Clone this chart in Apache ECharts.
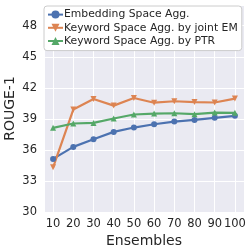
<!DOCTYPE html>
<html><head><meta charset="utf-8">
<script src="https://cdn.jsdelivr.net/npm/echarts@6/dist/echarts.min.js"></script>
<style>html,body{margin:0;padding:0;background:#fff}#c{width:251px;height:252px}</style>
</head><body><div id="c"></div>
<script>
var ensembles = [10, 20, 30, 40, 50, 60, 70, 80, 90, 100];
var embeddingAgg = [35.13, 36.29, 37.03, 37.74, 38.16, 38.48, 38.74, 38.9, 39.1, 39.29];
var keywordEM = [34.32, 39.9, 40.92, 40.28, 41.01, 40.56, 40.7, 40.62, 40.58, 40.96];
var keywordPTR = [38.13, 38.55, 38.61, 39.03, 39.42, 39.51, 39.54, 39.45, 39.61, 39.58];
var seriesNames = ['Embedding Space Agg.', 'Keyword Space Agg. by joint EM', 'Keyword Space Agg. by PTR'];

function pairs(ys){ return ensembles.map(function(x,i){ return [x, ys[i]]; }); }
var font = 'DejaVu Sans';
var chart = echarts.init(document.getElementById('c'), null, {renderer:'canvas'});
function mk(name, ys, color, symbol){
  return {name:name, type:'line', data:pairs(ys), symbol:symbol, symbolSize:6,
    lineStyle:{color:color, width:2.2}, itemStyle:{color:color}, animation:false};
}
chart.setOption({
  animation:false,
  textStyle:{fontFamily:font},
  grid:{left:44, right:7, top:5, bottom:40, show:true, backgroundColor:'#eaeaf2', borderWidth:0,
    containLabel:false, outerBoundsMode:'none'},
  legend:{orient:'vertical', left:44, top:6, padding:[2,4,3,3], itemGap:0,
    itemWidth:15, itemHeight:10, backgroundColor:'#ffffff', borderColor:'#cccccc', borderWidth:1, borderRadius:3,
    textStyle:{fontFamily:font, fontSize:10.8, lineHeight:13.2, color:'#262626', padding:[0,0,0,-4]},
    data:seriesNames},
  xAxis:{type:'value', min:5.5, max:104.5, splitNumber:10,
    name:'Ensembles', nameLocation:'middle', nameGap:22, nameMoveOverlap:false,
    nameTextStyle:{fontFamily:font, fontSize:14, color:'#262626'},
    axisLine:{show:false}, axisTick:{show:false},
    axisLabel:{fontFamily:font, fontSize:11.5, color:'#262626', margin:6, showMinLabel:false, showMaxLabel:false},
    splitLine:{show:true, lineStyle:{color:'#ffffff', width:1}}},
  yAxis:{type:'value', min:30, max:50, interval:3,
    name:'ROUGE-1', nameLocation:'middle', nameGap:27, nameMoveOverlap:false,
    nameTextStyle:{fontFamily:font, fontSize:14, color:'#262626'},
    axisLine:{show:false}, axisTick:{show:false},
    axisLabel:{fontFamily:font, fontSize:11.5, color:'#262626', margin:7, showMaxLabel:false},
    splitLine:{show:true, lineStyle:{color:'#ffffff', width:1}}},
  series:[
    mk(seriesNames[0], embeddingAgg, '#4c72b0', 'circle'),
    mk(seriesNames[1], keywordEM, '#dd8452', 'path://M0,0 L10,0 L5,9 Z'),
    mk(seriesNames[2], keywordPTR, '#55a868', 'triangle')
  ]
});
</script></body></html>
